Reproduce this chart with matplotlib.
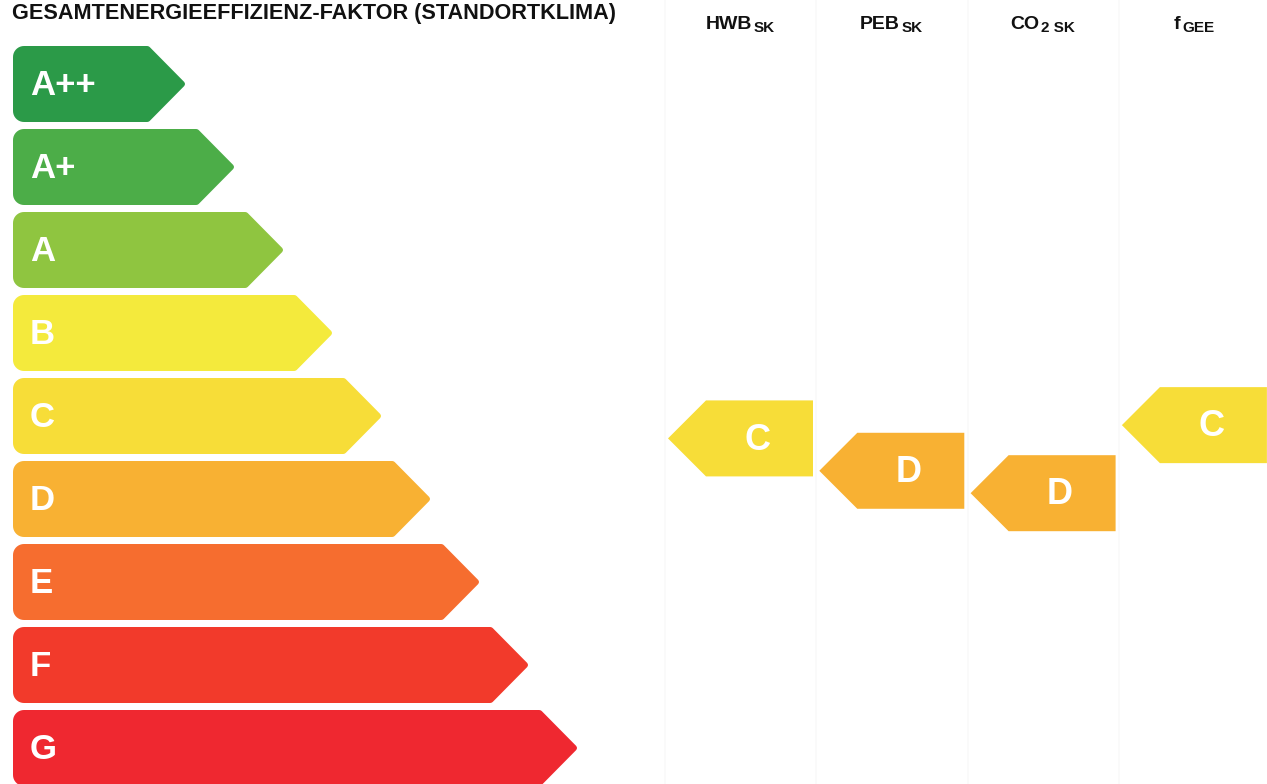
import numpy as np
import matplotlib.pyplot as plt
from matplotlib.patches import Polygon

plt.rcParams['font.family'] = ['Liberation Sans', 'DejaVu Sans']

# energy classes of the scale (top to bottom) and their colours
classes = ['A++', 'A+', 'A', 'B', 'C', 'D', 'E', 'F', 'G']
class_colors = ['#2b9a48', '#4cad48', '#8fc540', '#f4ea3c', '#f7dd38',
                '#f8b133', '#f66d2f', '#f23a2b', '#ef2830']

title = 'GESAMTENERGIEEFFIZIENZ-FAKTOR (STANDORTKLIMA)'

# indicators on the right: name, subscript, class, position on the scale (0 = A++)
ind_names = ['HWB', 'PEB', 'CO', 'f']
ind_subs = ['SK', 'SK', '2 SK', 'GEE']
ind_classes = ['C', 'D', 'D', 'C']
ind_levels = [4.27, 4.66, 4.93, 4.11]

W, H = 1267, 784
ROW0 = 84.0    # pixel y of first row centre
PX_ROW = 83.0  # pixels per row


def arc(cx, cy, r, a0, a1, n=10):
    a = np.radians(np.linspace(a0, a1, n))
    return list(zip(cx + r * np.cos(a), cy + r * np.sin(a)))


def to_rows(pts, yc):
    # pts in px offsets (y down) -> data coords
    return [(x, yc + y / PX_ROW) for x, y in pts]


def right_arrow(x0, tip, yc, h=76, depth=34, r=11):
    hh = h / 2
    pts = arc(x0 + r, -hh + r, r, 180, 270)
    pts += arc(tip - depth - 4, -hh + 4, 4, 270, 315, 4)
    pts += arc(tip - 3, 0, 3, -45, 45, 4)
    pts += arc(tip - depth - 4, hh - 4, 4, 45, 90, 4)
    pts += arc(x0 + r, hh - r, r, 90, 180)
    return to_rows(pts, yc)


def left_arrow(tip, right, yc, h=76, depth=38):
    hh = h / 2
    pts = [(tip, 0), (tip + depth, -hh), (right, -hh), (right, hh), (tip + depth, hh)]
    return to_rows(pts, yc)


fig = plt.figure(figsize=(W / 100, H / 100), dpi=100)
ax = fig.add_axes([0, 0, 1, 1])
ax.set_xlim(0, W)
ax.set_ylim((H - ROW0) / PX_ROW, -ROW0 / PX_ROW)
ax.axis('off')

# faint column separators from the scan
col_tips = [668 + 151.3 * i for i in range(len(ind_names))]
for xt in col_tips:
    ax.axvline(xt - 3, color='#f9f9f9', lw=1.2, zorder=0)

# left scale
for i, (lab, col) in enumerate(zip(classes, class_colors)):
    tip = 185 + 49 * i
    ax.add_patch(Polygon(right_arrow(13, tip, i), closed=True, fc=col, ec='none'))
    ax.text(30, i + 0.02, lab, color='white', fontsize=25, fontweight='bold',
            ha='left', va='center')

# title
ax.text(12, (19 - ROW0) / PX_ROW, title, fontsize=15.6, fontweight='bold',
        ha='left', va='baseline', color='#111111')

# indicator arrows
renderer = fig.canvas.get_renderer()
for k, xt in enumerate(col_tips):
    right = min(xt + 145, W)
    col = class_colors[classes.index(ind_classes[k])]
    lvl = ind_levels[k]
    ax.add_patch(Polygon(left_arrow(xt, right, lvl), closed=True, fc=col, ec='none'))
    ax.text((xt + 38 + right) / 2 - 2, lvl + 0.02, ind_classes[k], color='white',
            fontsize=26, fontweight='bold', ha='center', va='center')

    # header with subscript
    t1 = ax.text(0, (29 - ROW0) / PX_ROW, ind_names[k], fontsize=14,
                 fontweight='bold', ha='left', va='baseline', color='#111111')
    t2 = ax.text(0, (32 - ROW0) / PX_ROW, ind_subs[k], fontsize=11,
                 fontweight='bold', ha='left', va='baseline', color='#111111')
    w1 = t1.get_window_extent(renderer).width
    w2 = t2.get_window_extent(renderer).width
    cx = xt + 72
    x_start = cx - (w1 + 1.5 + w2) / 2
    t1.set_x(x_start)
    t2.set_x(x_start + w1 + 1.5)

fig.savefig('out.png', dpi=100, facecolor='white')
